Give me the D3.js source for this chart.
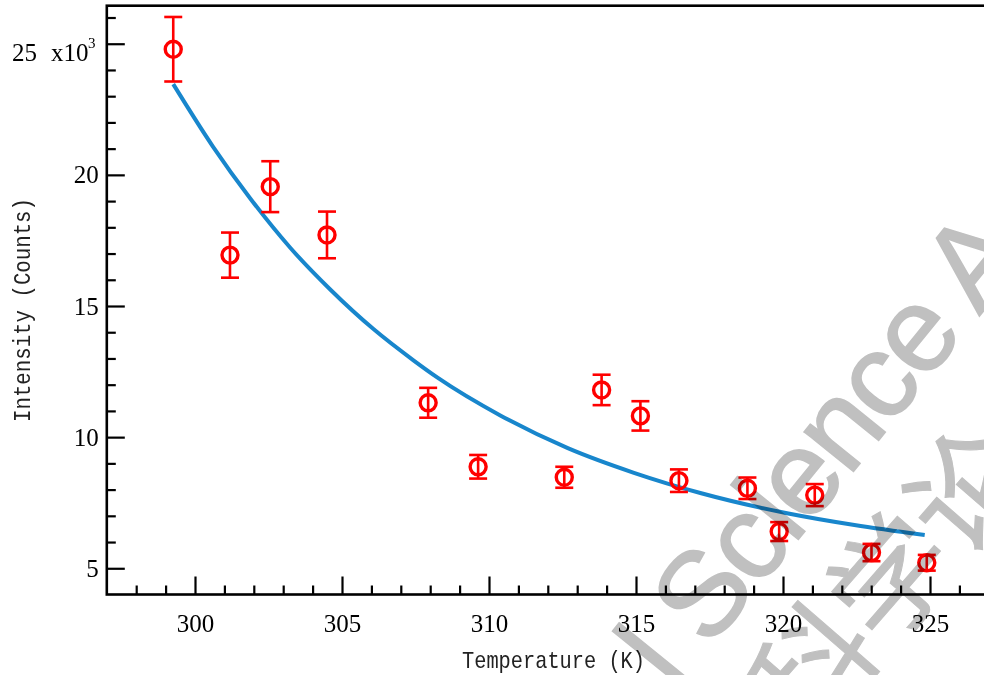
<!DOCTYPE html>
<html>
<head>
<meta charset="utf-8">
<script src="https://cdnjs.cloudflare.com/ajax/libs/d3/7.8.5/d3.min.js"></script>
<style>
	html, body { margin: 0; padding: 0; background: #fff; }
	svg { display: block; }
</style>
</head>
<body>
<svg id="chart" width="984" height="675"></svg>
<script>

// 測定点 (温度 K / 強度 x10^3 counts)
var temps  = [299.26, 301.19, 302.56, 304.49, 307.93, 309.63, 312.56, 313.83, 315.15, 316.46, 318.79, 319.87, 321.08, 323.01, 324.89];
var counts = [24.79, 16.94, 19.55, 17.71, 11.31, 8.87, 8.47, 11.80, 10.81, 8.34, 8.05, 6.40, 7.79, 5.60, 5.21];
var errors = [1.23, 0.86, 0.97, 0.89, 0.57, 0.45, 0.40, 0.58, 0.56, 0.43, 0.41, 0.36, 0.42, 0.33, 0.30];

// フィット曲線 (読み取り値)
var fitTemps  = [299.26, 300.61, 301.88, 303.24, 304.60, 306.07, 307.43, 308.25, 310.40, 312.68, 314.93, 317.22, 320.18, 322.43, 324.82];
var fitCounts = [23.46, 21.08, 19.10, 17.22, 15.63, 14.12, 12.93, 12.27, 10.82, 9.58, 8.64, 7.86, 7.09, 6.65, 6.27];

// 目盛
var xTicks = [300, 305, 310, 315, 320, 325];
var xMinor = d3.range(298, 328);
var yTicks = [5, 10, 15, 20, 25];
var yMinor = d3.range(5, 27);

var xLabel = "Temperature (K)";
var yLabel = "Intensity (Counts)";

var svg = d3.select("#chart");

var x = d3.scaleLinear().domain([297, 328]).range([106.8, 106.8 + 31 * 29.4]);
var y = d3.scaleLinear().domain([4, 26.45]).range([594.5, 5.7]);

var numFont = "'Liberation Serif', 'Times New Roman', serif";
var txtFont = "'Liberation Mono', 'Courier New', monospace";

//枠
svg.append("rect")
	.attr("x", x(297))
	.attr("y", y(26.45))
	.attr("width", 1100)
	.attr("height", y(4) - y(26.45))
	.attr("fill", "none")
	.attr("stroke", "#000")
	.attr("stroke-width", 2.6);

//x軸
svg.append("g")
	.attr("transform", "translate(0," + y(4) + ")")
	.call(d3.axisBottom(x).tickValues(xMinor.filter(function(d){ return d % 5 != 0; }))
		.tickSize(-9).tickSizeOuter(0).tickFormat(""));

svg.append("g")
	.attr("transform", "translate(0," + y(4) + ")")
	.call(d3.axisBottom(x).tickValues(xTicks)
		.tickSize(-18).tickSizeOuter(0).tickPadding(20).tickFormat(d3.format("d")));

//y軸
svg.append("g")
	.attr("transform", "translate(" + x(297) + ",0)")
	.call(d3.axisLeft(y).tickValues(yMinor.filter(function(d){ return d % 5 != 0; }))
		.tickSize(-9).tickSizeOuter(0).tickFormat(""));

var yAxis = svg.append("g")
	.attr("transform", "translate(" + x(297) + ",0)")
	.call(d3.axisLeft(y).tickValues(yTicks)
		.tickSize(-18).tickSizeOuter(0).tickPadding(8).tickFormat(d3.format("d")));

svg.selectAll(".domain").remove();
svg.selectAll(".tick line").attr("stroke", "#000").attr("stroke-width", 2.2);
svg.selectAll(".tick text")
	.attr("font-family", numFont)
	.attr("font-size", 25)
	.attr("fill", "#000");

// 25 のラベルは x10^3 付き
yAxis.selectAll(".tick")
	.filter(function(d){ return d == 25; })
	.select("text").remove();

var mult = svg.append("g")
	.attr("font-family", numFont)
	.attr("fill", "#000");
mult.append("text")
	.attr("x", 12).attr("y", y(25) + 17)
	.attr("font-size", 25)
	.text("25");
mult.append("text")
	.attr("x", 51).attr("y", y(25) + 17)
	.attr("font-size", 25)
	.text("x10");
mult.append("text")
	.attr("x", 88).attr("y", y(25) + 4)
	.attr("font-size", 15)
	.text("3");

//軸タイトル
svg.append("text")
	.attr("x", 462).attr("y", 668)
	.attr("font-family", txtFont)
	.attr("font-size", 24)
	.attr("textLength", 183)
	.attr("lengthAdjust", "spacingAndGlyphs")
	.attr("fill", "#222")
	.text(xLabel);

svg.append("text")
	.attr("transform", "translate(30,422) rotate(-90)")
	.attr("font-family", txtFont)
	.attr("font-size", 24)
	.attr("textLength", 224)
	.attr("lengthAdjust", "spacingAndGlyphs")
	.attr("fill", "#222")
	.text(yLabel);

//フィット曲線
var line = d3.line()
	.x(function(d){ return x(d[0]); })
	.y(function(d){ return y(d[1]); })
	.curve(d3.curveMonotoneX);

svg.append("path")
	.datum(d3.zip(fitTemps, fitCounts))
	.attr("d", line)
	.attr("fill", "none")
	.attr("stroke", "#1886cc")
	.attr("stroke-width", 4);

//データ点
var pts = d3.range(temps.length).map(function(i){
	return { t: temps[i], v: counts[i], e: errors[i] };
});

var point = svg.append("g")
	.attr("stroke", "#ff0000")
	.attr("fill", "none")
	.selectAll("g")
	.data(pts)
	.enter()
	.append("g");

point.append("line")
	.attr("x1", function(d){ return x(d.t); })
	.attr("x2", function(d){ return x(d.t); })
	.attr("y1", function(d){ return y(d.v + d.e); })
	.attr("y2", function(d){ return y(d.v - d.e); })
	.attr("stroke-width", 2.6);

point.append("line")
	.attr("x1", function(d){ return x(d.t) - 9; })
	.attr("x2", function(d){ return x(d.t) + 9; })
	.attr("y1", function(d){ return y(d.v + d.e); })
	.attr("y2", function(d){ return y(d.v + d.e); })
	.attr("stroke-width", 2.6);

point.append("line")
	.attr("x1", function(d){ return x(d.t) - 9; })
	.attr("x2", function(d){ return x(d.t) + 9; })
	.attr("y1", function(d){ return y(d.v - d.e); })
	.attr("y2", function(d){ return y(d.v - d.e); })
	.attr("stroke-width", 2.6);

point.append("circle")
	.attr("cx", function(d){ return x(d.t); })
	.attr("cy", function(d){ return y(d.v); })
	.attr("r", 8)
	.attr("stroke-width", 3.4);

//透かし
var wm = svg.append("g")
	.style("mix-blend-mode", "multiply")
	.attr("fill", "#c0c0c0")
	.attr("stroke", "#c0c0c0")
	.attr("font-family", "'Liberation Sans', Arial, sans-serif");

wm.append("text")
	.attr("transform", "translate(675,692) rotate(-51)")
	.attr("font-size", 120)
	.attr("letter-spacing", -3)
	.attr("stroke-width", 1.5)
	.text("l Science A");

wm.append("text")
	.attr("transform", "translate(808,740) rotate(-49)")
	.attr("font-family", "'Noto Sans CJK SC', sans-serif")
	.attr("font-size", 118)
	.attr("stroke-width", 1)
	.text("科学论文");

</script>
</body>
</html>
